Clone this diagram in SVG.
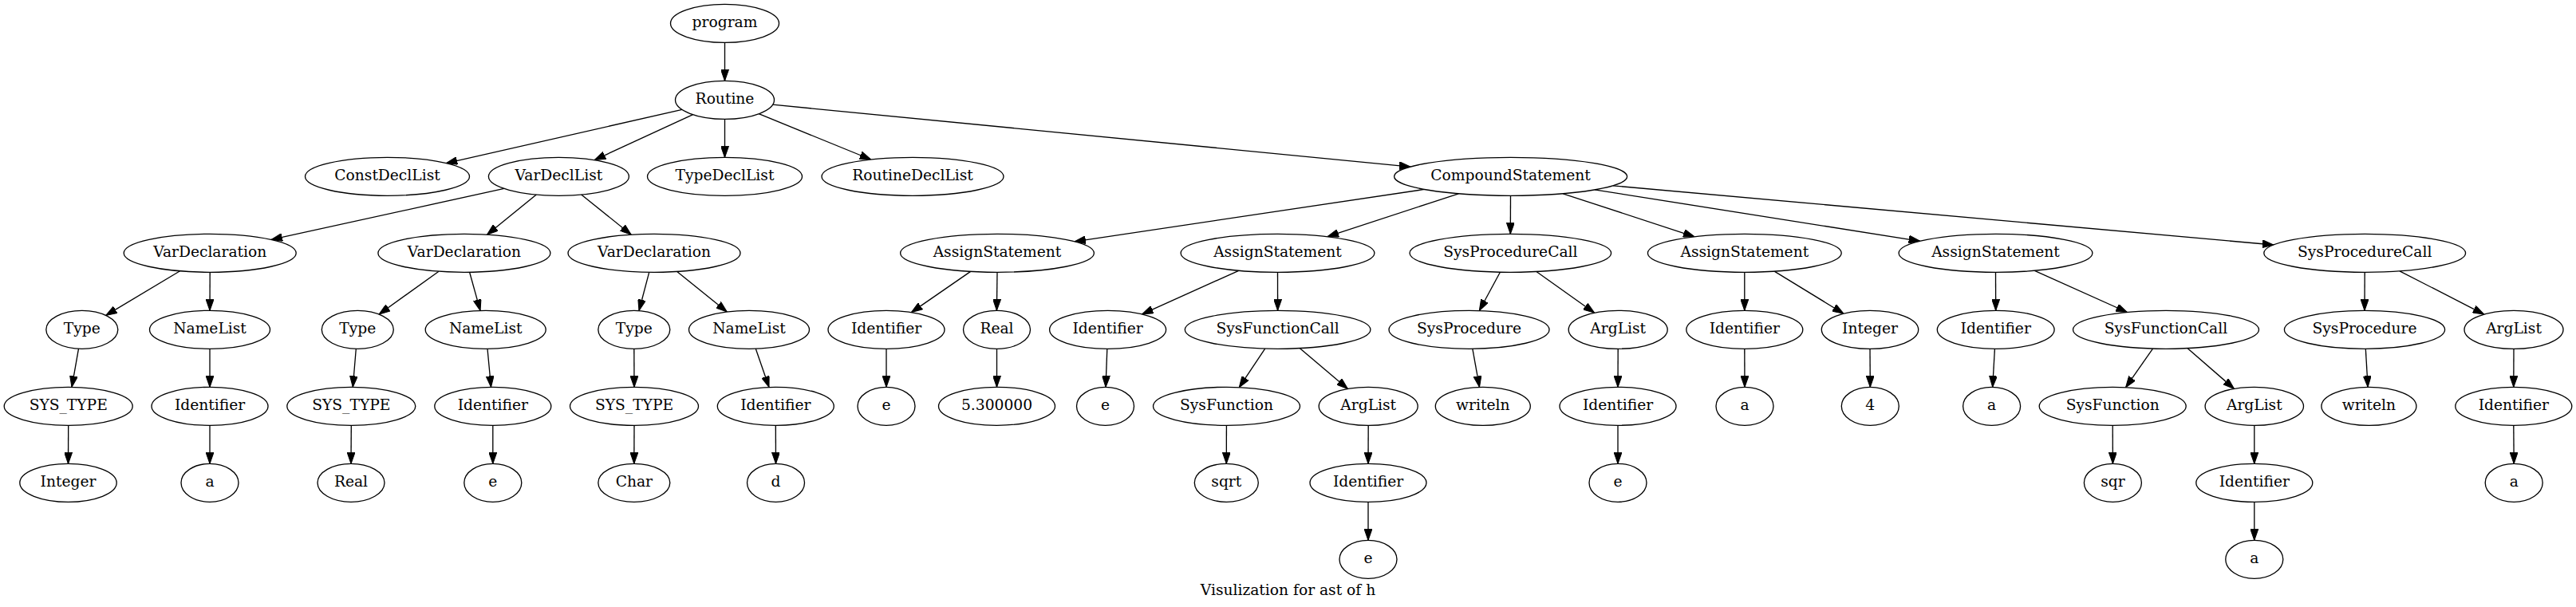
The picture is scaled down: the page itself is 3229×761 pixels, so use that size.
<svg xmlns="http://www.w3.org/2000/svg" width="3229" height="761" viewBox="0 0 3229 761">
<style>
.n ellipse{fill:#fff;stroke:#000;stroke-width:1.33}
.n text,.lbl{font-family:"DejaVu Serif","Liberation Serif",serif;font-size:18.67px;text-anchor:middle;fill:#000}
.e line{stroke:#000;stroke-width:1.33;marker-end:url(#ah)}
</style>
<defs>
<marker id="ah" markerUnits="userSpaceOnUse" markerWidth="14" markerHeight="10" viewBox="0 0 13.33 9.33" refX="13.33" refY="4.67" orient="auto">
<path d="M0,0 L13.33,4.67 L0,9.33 z" fill="#000" stroke="#000" stroke-width="1"/>
</marker>
</defs>
<rect width="3229" height="761" fill="#fff"/>
<g id="edges" class="e">
<line x1="908.5" y1="53.3" x2="908.5" y2="101.3"/>
<line x1="855" y1="137.4" x2="559.3" y2="204.6"/>
<line x1="868.6" y1="143.7" x2="745.2" y2="200.6"/>
<line x1="908.5" y1="149.3" x2="908.5" y2="197.3"/>
<line x1="951.2" y1="142.7" x2="1091.7" y2="200"/>
<line x1="968.6" y1="131.2" x2="1768" y2="209.1"/>
<line x1="631.9" y1="236.4" x2="340" y2="300.4"/>
<line x1="672.3" y1="244" x2="610.5" y2="294.2"/>
<line x1="728.7" y1="244" x2="791.2" y2="294.2"/>
<line x1="225.6" y1="339.8" x2="132.7" y2="395.4"/>
<line x1="263.2" y1="341.3" x2="263" y2="389.3"/>
<line x1="98.5" y1="437.2" x2="90" y2="485.3"/>
<line x1="85.7" y1="533.3" x2="85.5" y2="581.3"/>
<line x1="263" y1="437.3" x2="263" y2="485.3"/>
<line x1="263" y1="533.3" x2="263" y2="581.3"/>
<line x1="550" y1="340.2" x2="475.1" y2="394"/>
<line x1="588.6" y1="341.3" x2="602" y2="389.4"/>
<line x1="446.3" y1="437.3" x2="442.3" y2="485.3"/>
<line x1="440.3" y1="533.3" x2="440" y2="581.3"/>
<line x1="611" y1="437.3" x2="615.5" y2="485.3"/>
<line x1="617.8" y1="533.3" x2="617.8" y2="581.3"/>
<line x1="813.7" y1="341.3" x2="801" y2="389.5"/>
<line x1="848.7" y1="340.4" x2="911.3" y2="391"/>
<line x1="794.8" y1="437.3" x2="795" y2="485.3"/>
<line x1="795" y1="533.3" x2="794.8" y2="581.3"/>
<line x1="947.3" y1="437.2" x2="964" y2="485.5"/>
<line x1="972.3" y1="533.3" x2="972.5" y2="581.3"/>
<line x1="1785.5" y1="237.4" x2="1346.9" y2="302.8"/>
<line x1="1828.3" y1="242.8" x2="1664" y2="296.7"/>
<line x1="1893.5" y1="245.3" x2="1893.3" y2="293.3"/>
<line x1="1959.2" y1="242.8" x2="2124.1" y2="296.8"/>
<line x1="1998.9" y1="237.9" x2="2406.7" y2="302.3"/>
<line x1="2021.8" y1="232.8" x2="2849.9" y2="307"/>
<line x1="1216.6" y1="340.4" x2="1142.4" y2="391.6"/>
<line x1="1250" y1="341.3" x2="1249.4" y2="389.3"/>
<line x1="1111" y1="437.3" x2="1111" y2="485.3"/>
<line x1="1249.5" y1="437.3" x2="1249.5" y2="485.3"/>
<line x1="1552.7" y1="339.3" x2="1431.6" y2="393.9"/>
<line x1="1601.5" y1="341.3" x2="1601.6" y2="389.3"/>
<line x1="1387.8" y1="437.3" x2="1386" y2="485.3"/>
<line x1="1585.7" y1="437.1" x2="1553.3" y2="485.7"/>
<line x1="1629.2" y1="436.6" x2="1689.4" y2="487.5"/>
<line x1="1537.4" y1="533.3" x2="1537.3" y2="581.3"/>
<line x1="1715.2" y1="533.3" x2="1715" y2="581.3"/>
<line x1="1715" y1="629.3" x2="1715" y2="677.3"/>
<line x1="1880.4" y1="341.2" x2="1854.3" y2="389.5"/>
<line x1="1925.9" y1="340.5" x2="1998.6" y2="392.2"/>
<line x1="1845.8" y1="437.2" x2="1854.5" y2="485.4"/>
<line x1="2028.2" y1="437.3" x2="2028" y2="485.3"/>
<line x1="2028" y1="533.3" x2="2028" y2="581.3"/>
<line x1="2186.8" y1="341.3" x2="2186.8" y2="389.3"/>
<line x1="2224.2" y1="340.1" x2="2311" y2="393.2"/>
<line x1="2186.8" y1="437.3" x2="2187" y2="485.3"/>
<line x1="2344" y1="437.3" x2="2344.3" y2="485.3"/>
<line x1="2501.5" y1="341.3" x2="2501.7" y2="389.3"/>
<line x1="2550.4" y1="339.3" x2="2666.5" y2="391.5"/>
<line x1="2500.4" y1="437.3" x2="2497.7" y2="485.3"/>
<line x1="2698.5" y1="437.1" x2="2664.6" y2="485.7"/>
<line x1="2741.9" y1="436.6" x2="2800.5" y2="487.4"/>
<line x1="2648.2" y1="533.3" x2="2648.4" y2="581.3"/>
<line x1="2825.8" y1="533.3" x2="2825.8" y2="581.3"/>
<line x1="2825.8" y1="629.3" x2="2825.8" y2="677.3"/>
<line x1="2964.2" y1="341.3" x2="2964" y2="389.3"/>
<line x1="3008" y1="339.8" x2="3113.7" y2="394.1"/>
<line x1="2965.3" y1="437.3" x2="2968.1" y2="485.3"/>
<line x1="3151" y1="437.3" x2="3150.8" y2="485.3"/>
<line x1="3150.8" y1="533.3" x2="3151.2" y2="581.3"/>
</g>
<g id="n0" class="n" transform="translate(908.5,29.3)"><ellipse rx="68" ry="24"/><text y="5">program</text></g>
<g id="n1" class="n" transform="translate(908.5,125.3)"><ellipse rx="62" ry="24"/><text y="5">Routine</text></g>
<g id="n2" class="n" transform="translate(485.5,221.3)"><ellipse rx="103" ry="24"/><text y="5">ConstDeclList</text></g>
<g id="n3" class="n" transform="translate(700.4,221.3)"><ellipse rx="88" ry="24"/><text y="5">VarDeclList</text></g>
<g id="n4" class="n" transform="translate(908.5,221.3)"><ellipse rx="97" ry="24"/><text y="5">TypeDeclList</text></g>
<g id="n5" class="n" transform="translate(1144,221.3)"><ellipse rx="114" ry="24"/><text y="5">RoutineDeclList</text></g>
<g id="n6" class="n" transform="translate(1893.6,221.3)"><ellipse rx="146" ry="24"/><text y="5">CompoundStatement</text></g>
<g id="n7" class="n" transform="translate(263.2,317.3)"><ellipse rx="108" ry="24"/><text y="5">VarDeclaration</text></g>
<g id="n8" class="n" transform="translate(581.9,317.3)"><ellipse rx="108" ry="24"/><text y="5">VarDeclaration</text></g>
<g id="n9" class="n" transform="translate(820,317.3)"><ellipse rx="108" ry="24"/><text y="5">VarDeclaration</text></g>
<g id="n10" class="n" transform="translate(102.8,413.3)"><ellipse rx="45" ry="24"/><text y="5">Type</text></g>
<g id="n11" class="n" transform="translate(263,413.3)"><ellipse rx="75.5" ry="24"/><text y="5">NameList</text></g>
<g id="n12" class="n" transform="translate(85.7,509.3)"><ellipse rx="80.5" ry="24"/><text y="5">SYS_TYPE</text></g>
<g id="n13" class="n" transform="translate(85.5,605.3)"><ellipse rx="60.7" ry="24"/><text y="5">Integer</text></g>
<g id="n14" class="n" transform="translate(263,509.3)"><ellipse rx="73" ry="24"/><text y="5">Identifier</text></g>
<g id="n15" class="n" transform="translate(263,605.3)"><ellipse rx="36" ry="24"/><text y="5">a</text></g>
<g id="n16" class="n" transform="translate(448.3,413.3)"><ellipse rx="45" ry="24"/><text y="5">Type</text></g>
<g id="n17" class="n" transform="translate(608.7,413.3)"><ellipse rx="75.5" ry="24"/><text y="5">NameList</text></g>
<g id="n18" class="n" transform="translate(440.3,509.3)"><ellipse rx="80.5" ry="24"/><text y="5">SYS_TYPE</text></g>
<g id="n19" class="n" transform="translate(440,605.3)"><ellipse rx="42" ry="24"/><text y="5">Real</text></g>
<g id="n20" class="n" transform="translate(617.8,509.3)"><ellipse rx="73" ry="24"/><text y="5">Identifier</text></g>
<g id="n21" class="n" transform="translate(617.8,605.3)"><ellipse rx="36" ry="24"/><text y="5">e</text></g>
<g id="n22" class="n" transform="translate(794.8,413.3)"><ellipse rx="45" ry="24"/><text y="5">Type</text></g>
<g id="n23" class="n" transform="translate(939,413.3)"><ellipse rx="75.5" ry="24"/><text y="5">NameList</text></g>
<g id="n24" class="n" transform="translate(795,509.3)"><ellipse rx="80.5" ry="24"/><text y="5">SYS_TYPE</text></g>
<g id="n25" class="n" transform="translate(794.8,605.3)"><ellipse rx="45" ry="24"/><text y="5">Char</text></g>
<g id="n26" class="n" transform="translate(972.3,509.3)"><ellipse rx="73" ry="24"/><text y="5">Identifier</text></g>
<g id="n27" class="n" transform="translate(972.5,605.3)"><ellipse rx="36" ry="24"/><text y="5">d</text></g>
<g id="n28" class="n" transform="translate(1250,317.3)"><ellipse rx="121.4" ry="24"/><text y="5">AssignStatement</text></g>
<g id="n29" class="n" transform="translate(1601.5,317.3)"><ellipse rx="121.4" ry="24"/><text y="5">AssignStatement</text></g>
<g id="n30" class="n" transform="translate(1893.3,317.3)"><ellipse rx="126.3" ry="24"/><text y="5">SysProcedureCall</text></g>
<g id="n31" class="n" transform="translate(2186.8,317.3)"><ellipse rx="121.4" ry="24"/><text y="5">AssignStatement</text></g>
<g id="n32" class="n" transform="translate(2501.5,317.3)"><ellipse rx="121.4" ry="24"/><text y="5">AssignStatement</text></g>
<g id="n33" class="n" transform="translate(2964.2,317.3)"><ellipse rx="126.4" ry="24"/><text y="5">SysProcedureCall</text></g>
<g id="n34" class="n" transform="translate(1111,413.3)"><ellipse rx="73" ry="24"/><text y="5">Identifier</text></g>
<g id="n35" class="n" transform="translate(1249.5,413.3)"><ellipse rx="42" ry="24"/><text y="5">Real</text></g>
<g id="n36" class="n" transform="translate(1111,509.3)"><ellipse rx="36" ry="24"/><text y="5">e</text></g>
<g id="n37" class="n" transform="translate(1249.5,509.3)"><ellipse rx="73" ry="24"/><text y="5">5.300000</text></g>
<g id="n38" class="n" transform="translate(1388.6,413.3)"><ellipse rx="73" ry="24"/><text y="5">Identifier</text></g>
<g id="n39" class="n" transform="translate(1601.6,413.3)"><ellipse rx="116.3" ry="24"/><text y="5">SysFunctionCall</text></g>
<g id="n40" class="n" transform="translate(1385.5,509.3)"><ellipse rx="36" ry="24"/><text y="5">e</text></g>
<g id="n41" class="n" transform="translate(1537.5,509.3)"><ellipse rx="92" ry="24"/><text y="5">SysFunction</text></g>
<g id="n42" class="n" transform="translate(1715.2,509.3)"><ellipse rx="62" ry="24"/><text y="5">ArgList</text></g>
<g id="n43" class="n" transform="translate(1537.3,605.3)"><ellipse rx="40" ry="24"/><text y="5">sqrt</text></g>
<g id="n44" class="n" transform="translate(1715,605.3)"><ellipse rx="73" ry="24"/><text y="5">Identifier</text></g>
<g id="n45" class="n" transform="translate(1715,701.3)"><ellipse rx="36" ry="24"/><text y="5">e</text></g>
<g id="n46" class="n" transform="translate(1841.5,413.3)"><ellipse rx="100.5" ry="24"/><text y="5">SysProcedure</text></g>
<g id="n47" class="n" transform="translate(2028.2,413.3)"><ellipse rx="62" ry="24"/><text y="5">ArgList</text></g>
<g id="n48" class="n" transform="translate(1858.8,509.3)"><ellipse rx="59.5" ry="24"/><text y="5">writeln</text></g>
<g id="n49" class="n" transform="translate(2028,509.3)"><ellipse rx="73" ry="24"/><text y="5">Identifier</text></g>
<g id="n50" class="n" transform="translate(2028,605.3)"><ellipse rx="36" ry="24"/><text y="5">e</text></g>
<g id="n51" class="n" transform="translate(2186.8,413.3)"><ellipse rx="73" ry="24"/><text y="5">Identifier</text></g>
<g id="n52" class="n" transform="translate(2344,413.3)"><ellipse rx="60.7" ry="24"/><text y="5">Integer</text></g>
<g id="n53" class="n" transform="translate(2187,509.3)"><ellipse rx="36" ry="24"/><text y="5">a</text></g>
<g id="n54" class="n" transform="translate(2344.3,509.3)"><ellipse rx="36" ry="24"/><text y="5">4</text></g>
<g id="n55" class="n" transform="translate(2501.7,413.3)"><ellipse rx="73.4" ry="24"/><text y="5">Identifier</text></g>
<g id="n56" class="n" transform="translate(2715,413.3)"><ellipse rx="116.5" ry="24"/><text y="5">SysFunctionCall</text></g>
<g id="n57" class="n" transform="translate(2496.6,509.3)"><ellipse rx="36" ry="24"/><text y="5">a</text></g>
<g id="n58" class="n" transform="translate(2648.2,509.3)"><ellipse rx="92" ry="24"/><text y="5">SysFunction</text></g>
<g id="n59" class="n" transform="translate(2825.8,509.3)"><ellipse rx="61.7" ry="24"/><text y="5">ArgList</text></g>
<g id="n60" class="n" transform="translate(2648.4,605.3)"><ellipse rx="36" ry="24"/><text y="5">sqr</text></g>
<g id="n61" class="n" transform="translate(2825.8,605.3)"><ellipse rx="73" ry="24"/><text y="5">Identifier</text></g>
<g id="n62" class="n" transform="translate(2825.8,701.3)"><ellipse rx="36" ry="24"/><text y="5">a</text></g>
<g id="n63" class="n" transform="translate(2964,413.3)"><ellipse rx="100.6" ry="24"/><text y="5">SysProcedure</text></g>
<g id="n64" class="n" transform="translate(3151,413.3)"><ellipse rx="62" ry="24"/><text y="5">ArgList</text></g>
<g id="n65" class="n" transform="translate(2969.4,509.3)"><ellipse rx="59.5" ry="24"/><text y="5">writeln</text></g>
<g id="n66" class="n" transform="translate(3150.8,509.3)"><ellipse rx="73" ry="24"/><text y="5">Identifier</text></g>
<g id="n67" class="n" transform="translate(3151.2,605.3)"><ellipse rx="36" ry="24"/><text y="5">a</text></g>
<text class="lbl" x="1614.5" y="745.5">Visulization for ast of h</text>
</svg>
